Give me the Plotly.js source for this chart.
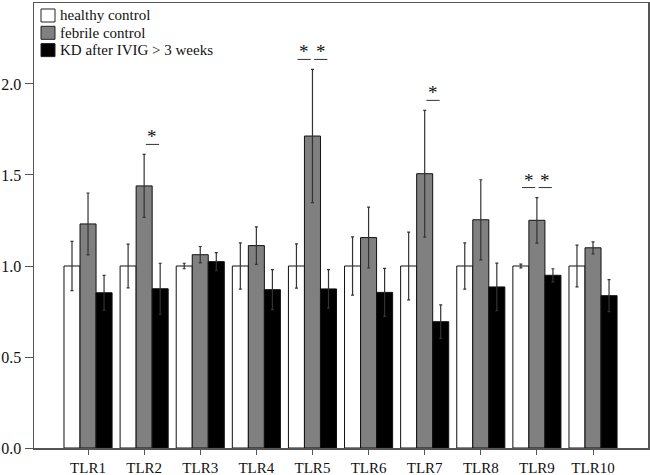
<!DOCTYPE html>
<html><head><meta charset="utf-8">
<script src="https://cdn.plot.ly/plotly-3.0.1.min.js"></script>
<style>body{margin:0;background:#fff}#chart{width:650px;height:475px}</style>
</head><body><div id="chart"></div>
<script>
const categories = ['TLR1','TLR2','TLR3','TLR4','TLR5','TLR6','TLR7','TLR8','TLR9','TLR10'];
const seriesNames = ['healthy control','febrile control','KD after IVIG > 3 weeks'];
const seriesColors = ['#ffffff','#808080','#000000'];
const healthy    = [1.0, 1.0, 1.0, 1.0, 1.0, 1.0, 1.0, 1.0, 1.0, 1.0];
const healthyErr = [0.135, 0.12, 0.015, 0.127, 0.122, 0.16, 0.186, 0.127, 0.01, 0.115];
const febrile    = [1.231, 1.44, 1.062, 1.112, 1.714, 1.156, 1.507, 1.254, 1.251, 1.10];
const febrileErr = [0.17, 0.173, 0.045, 0.103, 0.366, 0.167, 0.348, 0.22, 0.125, 0.033];
const kd         = [0.853, 0.875, 1.024, 0.870, 0.874, 0.855, 0.694, 0.885, 0.949, 0.837];
const kdErr      = [0.095, 0.14, 0.05, 0.11, 0.106, 0.132, 0.092, 0.131, 0.036, 0.088];
// significance: category and which pair (0 = healthy vs febrile, 1 = febrile vs KD)
const sigCats  = ['TLR2','TLR5','TLR5','TLR7','TLR9','TLR9'];
const sigPairs = [1, 0, 1, 1, 0, 1];

const font = "'Liberation Serif', 'Times New Roman', serif";
const ec = '#333';
const W = 650, H = 475, M = {l:34, r:2, t:3, b:27};
function tr(k, y, err){
  return {type:'bar', name:seriesNames[k], x:categories, y:y,
    marker:{color:seriesColors[k], line:{color:'#111', width:1}},
    error_y:{type:'data', array:err, visible:true, color:ec, thickness:1.2, width:1.5}};
}
const data = [tr(0, healthy, healthyErr), tr(1, febrile, febrileErr), tr(2, kd, kdErr)];
const off = 0.286;
const shapes = [], annotations = [];
sigCats.forEach((c, k) => {
  const i = categories.indexOf(c);
  const yTop = febrile[i] + febrileErr[i] + 0.055;
  const x0 = sigPairs[k] === 0 ? i - off + 0.02 : i + 0.03;
  const x1 = sigPairs[k] === 0 ? i - 0.03 : i + off - 0.02;
  shapes.push({type:'line', xref:'x', yref:'y', x0:x0, x1:x1, y0:yTop, y1:yTop, line:{color:'#333', width:1}});
  annotations.push({xref:'x', yref:'y', x:(x0+x1)/2, y:yTop, text:'*', showarrow:false, yanchor:'bottom', yshift:-5,
    font:{family:font, size:19, color:'#111'}});
});
// manual legend (pixel layout converted to paper coords)
const pw = W - M.l - M.r, ph = H - M.t - M.b;
const px = v => (v - M.l) / pw, py = v => (H - M.b - v) / ph;
seriesNames.forEach((n, k) => {
  const yc = 15.5 + k * 17.3;
  shapes.push({type:'rect', xref:'paper', yref:'paper', x0:px(41), x1:px(55), y0:py(yc-6.5), y1:py(yc+6.5),
    fillcolor:seriesColors[k], line:{color:'#222', width:1}});
  annotations.push({xref:'paper', yref:'paper', x:px(58), y:py(yc), xanchor:'left', yanchor:'middle',
    text:n, showarrow:false, font:{family:font, size:15, color:'#111'}});
});
const layout = {
  width:W, height:H, margin:M,
  paper_bgcolor:'#fff', plot_bgcolor:'#fff',
  barmode:'group', bargap:0.143, bargroupgap:0,
  showlegend:false,
  xaxis:{type:'category', range:[-0.963, 9.98], showline:true, linecolor:'#555', linewidth:1.5, mirror:true,
    ticks:'outside', ticklen:5, tickcolor:'#555', showgrid:false, zeroline:false,
    tickfont:{family:font, size:15, color:'#111'}},
  yaxis:{range:[0, 2.445], showline:true, linecolor:'#555', linewidth:1.5, mirror:true,
    ticks:'outside', ticklen:8, tickcolor:'#555', tickvals:[0,0.5,1,1.5,2], tickformat:'.1f',
    showgrid:false, zeroline:false, tickfont:{family:font, size:16, color:'#111'}},
  shapes:shapes, annotations:annotations
};
Plotly.newPlot('chart', data, layout, {displayModeBar:false, staticPlot:true});
</script></body></html>
